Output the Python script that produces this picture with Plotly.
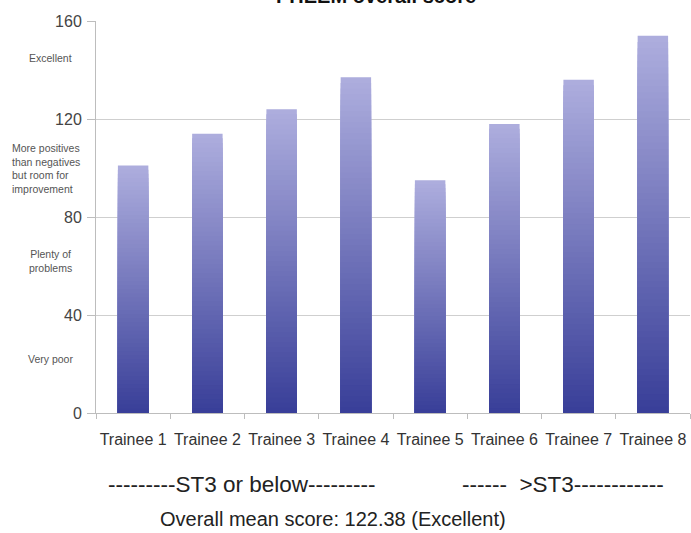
import plotly.graph_objects as go

trainees = ["Trainee 1", "Trainee 2", "Trainee 3", "Trainee 4",
            "Trainee 5", "Trainee 6", "Trainee 7", "Trainee 8"]
scores = [101, 114, 124, 137, 95, 118, 136, 154]
y_ticks = [0, 40, 80, 120, 160]
band_labels = ["Excellent",
               "More positives<br>than negatives<br>but room for<br>improvement",
               "Plenty of<br>problems",
               "Very poor"]
band_label_values = [145, 100, 62, 22]

W, H = 691, 533
ML, MR, MT, MB = 96, 1, 21, 120
PW = W - ML - MR

def px_x(p):
    return (p - ML) / PW

top_rgb = (174, 174, 222)
bot_rgb = (56, 62, 152)

def mix(t):
    return "rgb(%d,%d,%d)" % tuple(round(b + (a - b) * t) for a, b in zip(top_rgb, bot_rgb))

fig = go.Figure()
N = 60
for k in range(N):
    frac = (N - k) / N
    fig.add_trace(go.Bar(
        x=trainees,
        y=[v * frac for v in scores],
        width=0.41,
        marker=dict(color=mix(frac - 0.5 / N), line=dict(width=0)),
        showlegend=False,
        hoverinfo="skip",
    ))

FONT = "Liberation Sans, Arial"
annotations = []
annotations.append(dict(text="<b>PHEEM overall score</b>", xref="paper", yref="paper",
                        x=px_x(376), y=1, xanchor="center", yanchor="middle", yshift=25,
                        showarrow=False, font=dict(size=20, color="#111", family=FONT)))
for lab, val in zip(band_labels, band_label_values):
    if lab.startswith("More"):
        annotations.append(dict(text=lab, xref="paper", yref="y", x=px_x(10), y=val,
                                xanchor="left", yanchor="middle", align="left",
                                showarrow=False,
                                font=dict(size=10.5, color="#555", family=FONT)))
    else:
        annotations.append(dict(text=lab, xref="paper", yref="y", x=px_x(50), y=val,
                                xanchor="center", yanchor="middle", align="center",
                                showarrow=False,
                                font=dict(size=10.5, color="#555", family=FONT)))

annotations.append(dict(text="---------ST3 or below---------", xref="paper", yref="paper",
                        x=px_x(241), y=0, yshift=-71, xanchor="center", yanchor="middle",
                        showarrow=False, font=dict(size=22.5, color="#222", family=FONT)))
annotations.append(dict(text="------  >ST3------------", xref="paper", yref="paper",
                        x=px_x(563), y=0, yshift=-71, xanchor="center", yanchor="middle",
                        showarrow=False, font=dict(size=22.5, color="#222", family=FONT)))
annotations.append(dict(text="Overall mean score: 122.38 (Excellent)", xref="paper", yref="paper",
                        x=px_x(333), y=0, yshift=-106, xanchor="center", yanchor="middle",
                        showarrow=False, font=dict(size=20, color="#222", family=FONT)))

fig.update_layout(
    width=W, height=H,
    margin=dict(l=ML, r=MR, t=MT, b=MB, pad=0, autoexpand=False),
    paper_bgcolor="white", plot_bgcolor="white",
    barmode="overlay",
    bargap=0.59,
    font=dict(family=FONT, color="#444"),
    annotations=annotations,
    xaxis=dict(showline=True, linecolor="#bdbdbd", linewidth=1,
               ticks="outside", tickson="boundaries", ticklen=5, tickcolor="#bdbdbd",
               tickfont=dict(size=16, color="#333"), showgrid=False,
               tickangle=0, automargin=False,
               ticklabelstandoff=12),
    yaxis=dict(range=[0, 160], tickvals=y_ticks, showline=True, linecolor="#bdbdbd",
               ticks="outside", ticklen=8, tickcolor="#bdbdbd",
               gridcolor="#cfcfcf", gridwidth=1, zeroline=False, automargin=False,
               tickfont=dict(size=16, color="#444"), ticklabelstandoff=2),
)

fig.write_html("out.html", config={"displayModeBar": False},
               post_script="document.body.style.margin='0';document.body.style.overflow='hidden';")
